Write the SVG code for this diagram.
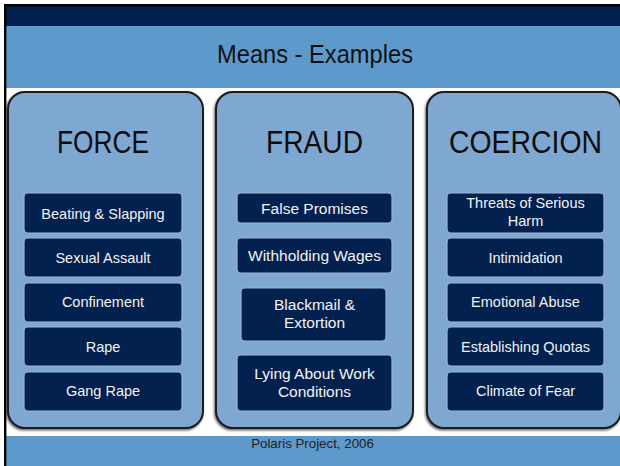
<svg xmlns="http://www.w3.org/2000/svg" width="620" height="466" viewBox="0 0 620 466">
<defs>
<filter id="sh" x="-10%" y="-10%" width="120%" height="120%">
<feDropShadow dx="-1" dy="1.5" stdDeviation="0.8" flood-color="#000" flood-opacity="0.6"/>
</filter>
</defs>
<style>
.panel{fill:#7ea8d1;stroke:#1b1b1b;stroke-width:2;filter:url(#sh)}
.box{fill:#03214f;stroke:#9fb4cf;stroke-width:1.2}
.head{font-family:"Liberation Sans",Arial,sans-serif;font-size:31px;fill:#0d0d0d;text-anchor:middle}
.t{font-family:"Liberation Sans",Arial,sans-serif;font-size:14.5px;fill:#f2f2f2;text-anchor:middle}
.tf{font-family:"Liberation Sans",Arial,sans-serif;font-size:15.5px;fill:#f2f2f2;text-anchor:middle}
</style>
<rect width="620" height="466" fill="#ffffff"/>
<rect x="6" y="6" width="614" height="20" fill="#03214f"/>
<rect x="6" y="26" width="614" height="62" fill="#5d9acb"/>
<rect x="6" y="436" width="614" height="30" fill="#5d9acb"/>
<path d="M5.2 466 V5.2 H620" fill="none" stroke="#000" stroke-width="2.4"/>
<text x="315" y="63" font-family="'Liberation Sans',Arial,sans-serif" font-size="25" fill="#111" text-anchor="middle" textLength="196" lengthAdjust="spacingAndGlyphs">Means - Examples</text>
<g id="force">
<rect class="panel" x="8" y="92" width="195" height="336" rx="17"/>
<text class="head" x="103" y="153" textLength="92" lengthAdjust="spacingAndGlyphs">FORCE</text>
<rect class="box" x="24" y="193" width="158" height="40" rx="4"/>
<text class="t" x="103" y="219">Beating &amp; Slapping</text>
<rect class="box" x="24" y="238" width="158" height="39" rx="4"/>
<text class="t" x="103" y="263">Sexual Assault</text>
<rect class="box" x="24" y="283" width="158" height="39" rx="4"/>
<text class="t" x="103" y="307">Confinement</text>
<rect class="box" x="24" y="327" width="158" height="39" rx="4"/>
<text class="t" x="103" y="352">Rape</text>
<rect class="box" x="24" y="372" width="158" height="39" rx="4"/>
<text class="t" x="103" y="396">Gang Rape</text>
</g>
<g id="fraud">
<rect class="panel" x="216" y="92" width="197" height="336" rx="17"/>
<text class="head" x="314.5" y="153" textLength="97" lengthAdjust="spacingAndGlyphs">FRAUD</text>
<rect class="box" x="237" y="193" width="155" height="30" rx="4"/>
<text class="tf" x="314.5" y="214" font-size="16">False Promises</text>
<rect class="box" x="237" y="238" width="155" height="35" rx="4"/>
<text class="tf" x="314.5" y="261">Withholding Wages</text>
<rect class="box" x="241" y="288" width="145" height="53" rx="4"/>
<text class="tf" x="314.5" y="310">Blackmail &amp;</text>
<text class="tf" x="314.5" y="328">Extortion</text>
<rect class="box" x="237" y="355" width="155" height="56" rx="4"/>
<text class="tf" x="314.5" y="379">Lying About Work</text>
<text class="tf" x="314.5" y="397">Conditions</text>
</g>
<g id="coercion">
<rect class="panel" x="427" y="92" width="194" height="336" rx="17"/>
<text class="head" x="525.5" y="153" textLength="153" lengthAdjust="spacingAndGlyphs">COERCION</text>
<rect class="box" x="447" y="193" width="157" height="40" rx="4"/>
<text class="t" x="525.5" y="208">Threats of Serious</text>
<text class="t" x="525.5" y="226">Harm</text>
<rect class="box" x="447" y="238" width="157" height="39" rx="4"/>
<text class="t" x="525.5" y="263">Intimidation</text>
<rect class="box" x="447" y="283" width="157" height="39" rx="4"/>
<text class="t" x="525.5" y="307">Emotional Abuse</text>
<rect class="box" x="447" y="327" width="157" height="39" rx="4"/>
<text class="t" x="525.5" y="352">Establishing Quotas</text>
<rect class="box" x="447" y="372" width="157" height="39" rx="4"/>
<text class="t" x="525.5" y="396">Climate of Fear</text>
</g>
<g id="connectors"/>
<text x="312.5" y="448" font-family="'Liberation Sans',Arial,sans-serif" font-size="13.3" fill="#222" text-anchor="middle">Polaris Project, 2006</text>
</svg>
